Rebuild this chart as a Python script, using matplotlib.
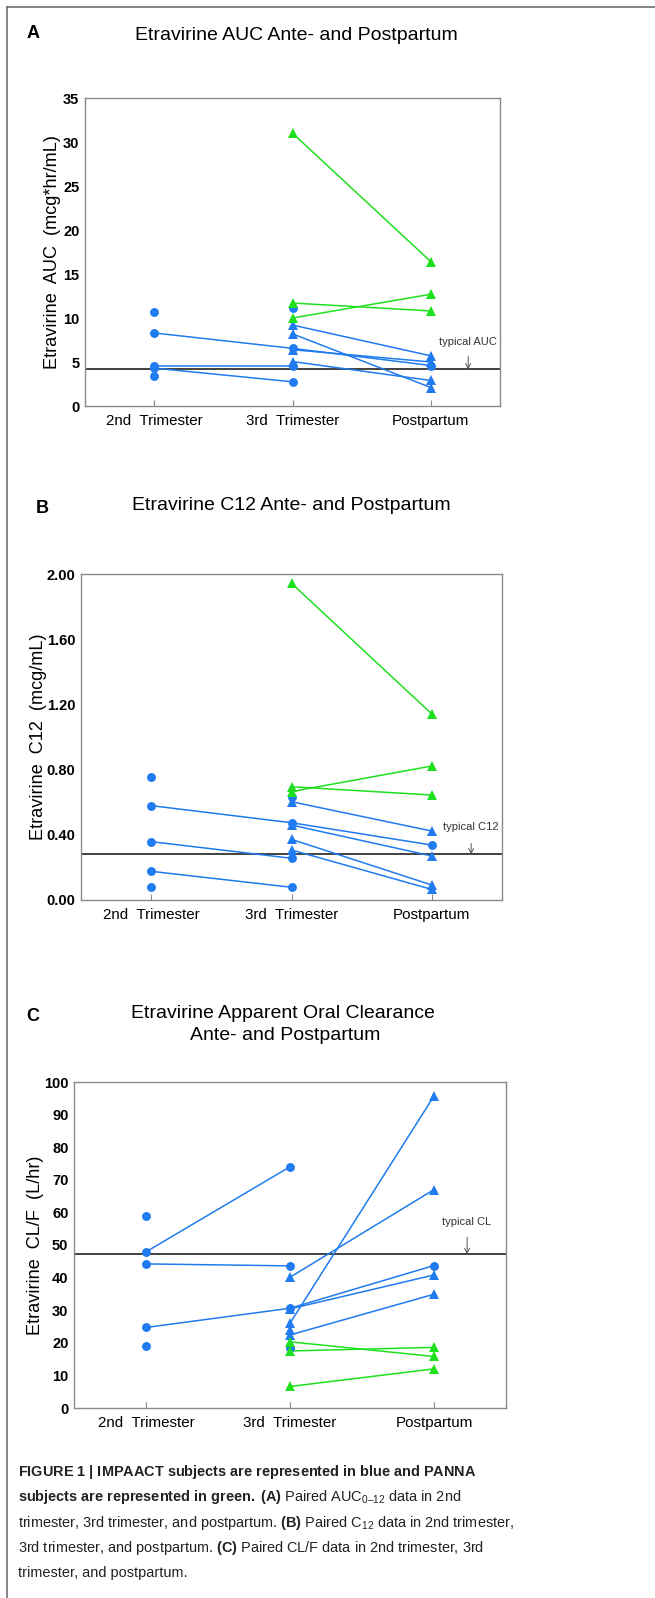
import numpy as np
import matplotlib
matplotlib.use("Agg")
import matplotlib.pyplot as plt
from matplotlib.lines import Line2D
from matplotlib import font_manager as fm

# ---------------- data ----------------
nan = np.nan
stages = ["2nd  Trimester", "3rd  Trimester", "Postpartum"]

# Panel A: AUC (mcg*hr/mL); values at [2nd, 3rd, postpartum]
auc_blue = [[10.7, nan, nan], [8.3, 6.55, 4.6], [4.6, 4.6, nan], [4.3, 2.75, nan],
            [3.4, nan, nan], [nan, 11.1, nan], [nan, 9.2, 5.7], [nan, 8.2, 2.1],
            [nan, 6.4, 5.0], [nan, 5.05, 2.9]]
auc_blue_mk = ["o--", "ooo", "oo-", "oo-", "o--", "-o-", "-^^", "-^^", "-^^", "-^^"]
auc_green = [[nan, 31.0, 16.4], [nan, 11.7, 10.8], [nan, 10.0, 12.7]]
auc_green_mk = ["-^^", "-^^", "-^^"]
auc_typical = 4.17

# Panel B: C12 (mcg/mL)
c12_blue = [[0.753, nan, nan], [0.579, 0.474, 0.337], [0.358, 0.256, nan],
            [0.176, 0.078, nan], [0.082, nan, nan], [nan, 0.634, nan],
            [nan, 0.603, 0.423], [nan, 0.46, 0.27], [nan, 0.372, 0.092],
            [nan, 0.307, 0.065]]
c12_blue_mk = ["o--", "ooo", "oo-", "oo-", "o--", "-o-", "-^^", "-^^", "-^^", "-^^"]
c12_green = [[nan, 1.943, 1.141], [nan, 0.695, 0.644], [nan, 0.665, 0.822]]
c12_green_mk = ["-^^", "-^^", "-^^"]
c12_typical = 0.28

# Panel C: CL/F (L/hr)
cl_blue = [[58.9, nan, nan], [47.9, 74.0, nan], [44.2, 43.6, nan], [24.7, 30.6, 43.7],
           [18.9, nan, nan], [nan, 30.4, 40.8], [nan, 40.1, 67.0], [nan, 26.0, 95.7],
           [nan, 22.4, 34.9], [nan, 24.0, nan], [nan, 18.4, nan]]
cl_blue_mk = ["o--", "oo-", "oo-", "ooo", "o--", "-^^", "-^^", "-^^", "-^^", "-^-", "-o-"]
cl_green = [[nan, 20.3, 15.8], [nan, 17.5, 18.6], [nan, 6.6, 12.0]]
cl_green_mk = ["-^^", "-^^", "-^^"]
cl_typical = 47.2

# ---------------- fonts ----------------
def has_font(name):
    try:
        fm.findfont(fm.FontProperties(family=name), fallback_to_default=False)
        return True
    except Exception:
        return False

if has_font("Liberation Sans Narrow"):
    NARROW, NS = "Liberation Sans Narrow", 1.0
else:
    NARROW, NS = "Liberation Sans", 0.84
REG = "Liberation Sans"

plt.rcParams["font.family"] = [NARROW, "DejaVu Sans"]
plt.rcParams["mathtext.fontset"] = "custom"
plt.rcParams["mathtext.rm"] = NARROW
plt.rcParams["mathtext.bf"] = NARROW + ":bold"
plt.rcParams["mathtext.it"] = NARROW + ":italic"

W, H = 655, 1598
fig = plt.figure(figsize=(W / 100, H / 100), dpi=100)

def fx(px):
    return px / W

def fy(py):
    return 1 - py / H

BLUE = "#1f7bef"
GREEN = "#1fe01f"
SPINE = "#8a8a8a"

# outer frame (left and top)
fig.add_artist(Line2D([fx(7), fx(7)], [fy(7), fy(1598)], color="#707070", lw=1.2))
fig.add_artist(Line2D([fx(7), fx(655)], [fy(7), fy(7)], color="#707070", lw=1.2))


def draw_panel(rect_px, series, yticks, yfmt, typical, typ_label, typ_x,
               arrow_px, text_px, ylabel, ylabel_x):
    l, t, r, b = rect_px
    ax = fig.add_axes([fx(l), fy(b), (r - l) / W, (b - t) / H])
    xs = np.arange(1, 4)
    for vals_list, mk_list, col in series:
        for vals, mks in zip(vals_list, mk_list):
            v = np.array(vals, dtype=float)
            m = ~np.isnan(v)
            ax.plot(xs[m], v[m], color=col, lw=1.1, zorder=3)
            for xi, vi, mk in zip(xs, v, mks):
                if mk != "-" and not np.isnan(vi):
                    ax.plot([xi], [vi], marker=mk, color=col, ms=6.4 if mk == "o" else 6.6,
                            linestyle="none", zorder=4, markeredgewidth=0)
    ax.axhline(typical, color="#333333", lw=1.3, zorder=2)
    ax.annotate("", xy=(typ_x, typical), xytext=(0, arrow_px * 0.72),
                textcoords="offset points",
                arrowprops=dict(arrowstyle="->,head_length=0.35,head_width=0.18",
                                color="#555555", lw=0.7, shrinkA=0, shrinkB=0))
    ax.annotate(typ_label, xy=(typ_x, typical), xytext=(0, text_px * 0.72),
                textcoords="offset points", ha="center", va="center",
                fontsize=9.5 * NS, color="#333333")
    ax.set_xlim(0.5, 3.5)
    ax.set_ylim(yticks[0], yticks[-1])
    ax.set_yticks(yticks)
    ax.set_yticklabels([yfmt.format(v) for v in yticks], fontsize=12.5 * NS,
                       fontweight="bold")
    ax.set_xticks(xs)
    ax.set_xticklabels(stages, fontsize=13 * NS)
    ax.tick_params(axis="y", length=0, pad=4)
    ax.tick_params(axis="x", direction="in", length=4, color=SPINE, pad=6)
    for s in ax.spines.values():
        s.set_color(SPINE)
        s.set_linewidth(1.0)
    fig.text(fx(ylabel_x), fy((t + b) / 2), ylabel, rotation=90, ha="center",
             va="center", fontsize=15.5 * NS)
    return ax


# ---------------- Panel A ----------------
fig.text(fx(33), fy(33), "A", fontsize=13, fontweight="bold", family=REG,
         ha="center", va="center")
fig.text(fx(296), fy(35), "Etravirine AUC Ante- and Postpartum", fontsize=14,
         family=REG, ha="center", va="center")
draw_panel((85, 98, 500, 406),
           [(auc_blue, auc_blue_mk, BLUE), (auc_green, auc_green_mk, GREEN)],
           [0, 5, 10, 15, 20, 25, 30, 35], "{:.0f}", auc_typical, "typical AUC",
           3.27, 13, 27, "Etravirine  AUC  (mcg*hr/mL)", 53)

# ---------------- Panel B ----------------
fig.text(fx(42), fy(508), "B", fontsize=13, fontweight="bold", family=REG,
         ha="center", va="center")
fig.text(fx(291), fy(505), "Etravirine C12 Ante- and Postpartum", fontsize=14,
         family=REG, ha="center", va="center")
draw_panel((81, 574, 502, 900),
           [(c12_blue, c12_blue_mk, BLUE), (c12_green, c12_green_mk, GREEN)],
           [0.0, 0.4, 0.8, 1.2, 1.6, 2.0], "{:.2f}", c12_typical, "typical C12",
           3.28, 11, 27, "Etravirine  C12  (mcg/mL)", 39)

# ---------------- Panel C ----------------
fig.text(fx(33), fy(1016), "C", fontsize=13, fontweight="bold", family=REG,
         ha="center", va="center")
fig.text(fx(283), fy(1013), "Etravirine Apparent Oral Clearance", fontsize=14,
         family=REG, ha="center", va="center")
fig.text(fx(285), fy(1035), "Ante- and Postpartum", fontsize=14,
         family=REG, ha="center", va="center")
draw_panel((74, 1082, 506, 1408),
           [(cl_blue, cl_blue_mk, BLUE), (cl_green, cl_green_mk, GREEN)],
           list(range(0, 101, 10)), "{:.0f}", cl_typical, "typical CL",
           3.23, 17, 32, "Etravirine  CL/F  (L/hr)", 36)

# ---------------- Caption ----------------
cap_size = 12.4 * NS
DASH = "\u2013"
cap_lines = [
    r"$\mathbf{FIGURE\ 1\ |\ IMPAACT\ subjects\ are\ represented\ in\ blue\ and\ PANNA}$",
    r"$\mathbf{subjects\ are\ represented\ in\ green.\ (A)}$ Paired $\mathrm{AUC}_{\mathrm{0"
    + DASH + r"12}}$ data in 2nd",
    r"trimester, 3rd trimester, and postpartum. $\mathbf{(B)}$ Paired $\mathrm{C}_{\mathrm{12}}$ data in 2nd trimester,",
    r"3rd trimester, and postpartum. $\mathbf{(C)}$ Paired CL/F data in 2nd trimester, 3rd",
    "trimester, and postpartum.",
]
baselines = [1476, 1501, 1527, 1552, 1577]
for line, yb in zip(cap_lines, baselines):
    fig.text(fx(18), fy(yb), line, fontsize=cap_size, ha="left", va="baseline",
             color="#222222")

fig.savefig("out.png", dpi=100)
